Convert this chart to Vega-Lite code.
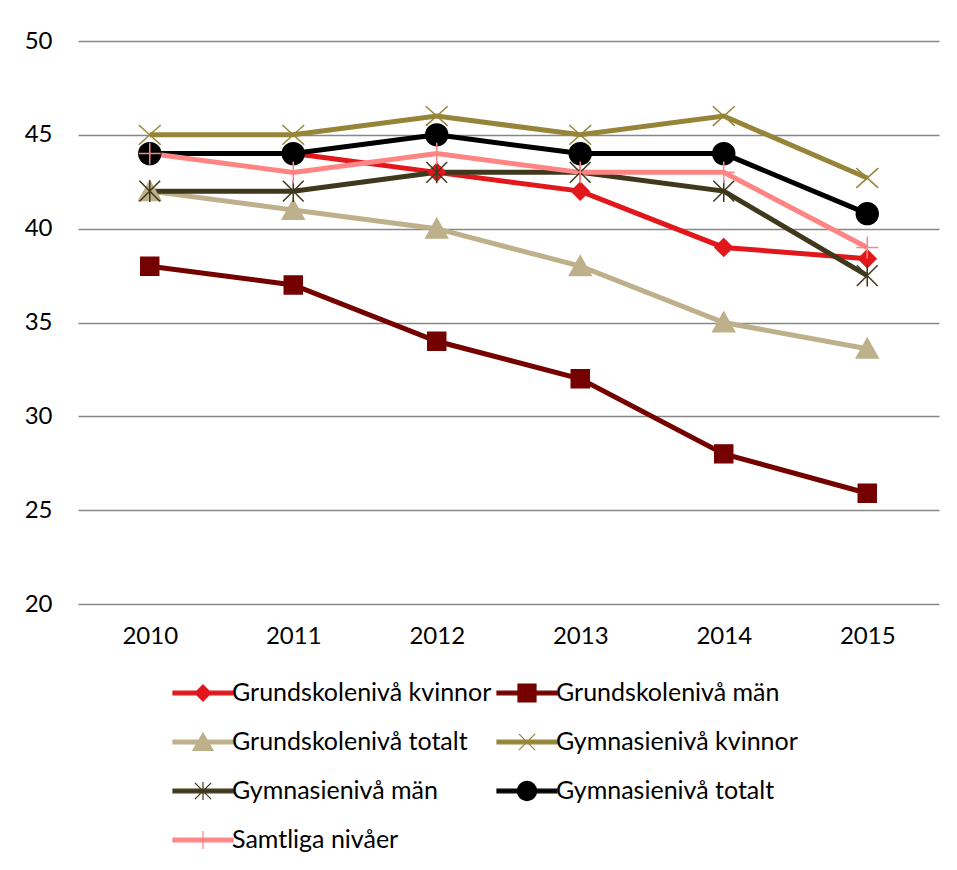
{
  "$schema": "https://vega.github.io/schema/vega-lite/v6.json",
  "autosize": {"type": "none"},
  "padding": {"left": 78, "top": 41, "right": 18, "bottom": 266},
  "width": 861,
  "height": 563,
  "background": "white",
  "config": {
    "view": {"stroke": null},
    "font": "Lato"
  },
  "data": {
    "values": [
      {"series": "Grundskolenivå kvinnor", "year": "2010", "value": 44},
      {"series": "Grundskolenivå kvinnor", "year": "2011", "value": 44},
      {"series": "Grundskolenivå kvinnor", "year": "2012", "value": 43},
      {"series": "Grundskolenivå kvinnor", "year": "2013", "value": 42},
      {"series": "Grundskolenivå kvinnor", "year": "2014", "value": 39},
      {"series": "Grundskolenivå kvinnor", "year": "2015", "value": 38.4},
      {"series": "Grundskolenivå män", "year": "2010", "value": 38},
      {"series": "Grundskolenivå män", "year": "2011", "value": 37},
      {"series": "Grundskolenivå män", "year": "2012", "value": 34},
      {"series": "Grundskolenivå män", "year": "2013", "value": 32},
      {"series": "Grundskolenivå män", "year": "2014", "value": 28},
      {"series": "Grundskolenivå män", "year": "2015", "value": 25.9},
      {"series": "Grundskolenivå totalt", "year": "2010", "value": 42},
      {"series": "Grundskolenivå totalt", "year": "2011", "value": 41},
      {"series": "Grundskolenivå totalt", "year": "2012", "value": 40},
      {"series": "Grundskolenivå totalt", "year": "2013", "value": 38},
      {"series": "Grundskolenivå totalt", "year": "2014", "value": 35},
      {"series": "Grundskolenivå totalt", "year": "2015", "value": 33.6},
      {"series": "Gymnasienivå kvinnor", "year": "2010", "value": 45},
      {"series": "Gymnasienivå kvinnor", "year": "2011", "value": 45},
      {"series": "Gymnasienivå kvinnor", "year": "2012", "value": 46},
      {"series": "Gymnasienivå kvinnor", "year": "2013", "value": 45},
      {"series": "Gymnasienivå kvinnor", "year": "2014", "value": 46},
      {"series": "Gymnasienivå kvinnor", "year": "2015", "value": 42.7},
      {"series": "Gymnasienivå män", "year": "2010", "value": 42},
      {"series": "Gymnasienivå män", "year": "2011", "value": 42},
      {"series": "Gymnasienivå män", "year": "2012", "value": 43},
      {"series": "Gymnasienivå män", "year": "2013", "value": 43},
      {"series": "Gymnasienivå män", "year": "2014", "value": 42},
      {"series": "Gymnasienivå män", "year": "2015", "value": 37.5},
      {"series": "Gymnasienivå totalt", "year": "2010", "value": 44},
      {"series": "Gymnasienivå totalt", "year": "2011", "value": 44},
      {"series": "Gymnasienivå totalt", "year": "2012", "value": 45},
      {"series": "Gymnasienivå totalt", "year": "2013", "value": 44},
      {"series": "Gymnasienivå totalt", "year": "2014", "value": 44},
      {"series": "Gymnasienivå totalt", "year": "2015", "value": 40.8},
      {"series": "Samtliga nivåer", "year": "2010", "value": 44},
      {"series": "Samtliga nivåer", "year": "2011", "value": 43},
      {"series": "Samtliga nivåer", "year": "2012", "value": 44},
      {"series": "Samtliga nivåer", "year": "2013", "value": 43},
      {"series": "Samtliga nivåer", "year": "2014", "value": 43},
      {"series": "Samtliga nivåer", "year": "2015", "value": 39}
    ]
  },
  "encoding": {
    "x": {
      "field": "year", "type": "ordinal",
      "scale": {"type": "point", "padding": 0.5},
      "axis": {"title": null, "labelAngle": 0, "domain": false, "ticks": false, "grid": false, "labelPadding": 20, "labelFont": "Lato", "labelFontSize": 24, "labelColor": "#000000"}
    },
    "y": {
      "field": "value", "type": "quantitative",
      "scale": {"domain": [20, 50], "nice": false, "zero": false},
      "axis": {"title": null, "values": [20, 25, 30, 35, 40, 45, 50], "domain": false, "ticks": false, "labelPadding": 26, "gridColor": "#878787", "gridWidth": 1.5, "gridOpacity": 1, "labelFont": "Lato", "labelFontSize": 24, "labelColor": "#000000"}
    }
  },
  "layer": [
    {
      "mark": {"type": "line", "strokeWidth": 5},
      "encoding": {
        "stroke": {
          "field": "series", "type": "nominal",
          "scale": {
            "domain": ["Grundskolenivå kvinnor", "Grundskolenivå män", "Grundskolenivå totalt", "Gymnasienivå kvinnor", "Gymnasienivå män", "Gymnasienivå totalt", "Samtliga nivåer"],
            "range": ["#E2171B", "#750000", "#BDB08A", "#968539", "#3F381C", "#000000", "#FF8585"]
          }
        },
        "order": {"field": "year"}
      }
    },
    {
      "mark": {"type": "point", "filled": true, "size": 480, "strokeWidth": 1.5, "opacity": 1},
      "encoding": {
        "color": {
          "field": "series", "type": "nominal",
          "scale": {
            "domain": ["Grundskolenivå kvinnor", "Grundskolenivå män", "Grundskolenivå totalt", "Gymnasienivå kvinnor", "Gymnasienivå män", "Gymnasienivå totalt", "Samtliga nivåer"],
            "range": ["#E2171B", "#750000", "#BDB08A", "#968539", "#3F381C", "#000000", "#FF8585"]
          },
          "legend": {
            "title": null, "orient": "none", "legendX": 94, "legendY": 621, "direction": "horizontal", "columns": 2,
            "labelFont": "Lato", "labelFontSize": 25, "labelColor": "#000000", "labelOffset": -2, "labelLimit": 400,
            "symbolSize": 3600, "symbolStrokeWidth": 1, "rowPadding": 5, "columnPadding": 2, "symbolOpacity": 1,
            "encode": {
              "symbols": {
                "update": {
                  "shape": {"signal": "datum.value === 'Grundskolenivå kvinnor' ? 'M-1,-0.06H1V0.06H-1Z M0,-0.27L0.27,0L0,0.27L-0.27,0Z' : datum.value === 'Grundskolenivå män' ? 'M-1,-0.06H1V0.06H-1Z M-0.3,-0.3H0.3V0.3H-0.3Z' : datum.value === 'Grundskolenivå totalt' ? 'M-1,-0.06H1V0.06H-1Z M0,-0.3L0.34,0.28H-0.34Z' : datum.value === 'Gymnasienivå kvinnor' ? 'M-1,-0.06H1V0.06H-1Z M-0.27,-0.27L0.27,0.27M-0.27,0.27L0.27,-0.27' : datum.value === 'Gymnasienivå män' ? 'M-1,-0.06H1V0.06H-1Z M-0.27,-0.27L0.27,0.27M-0.27,0.27L0.27,-0.27M0,-0.3V0.3' : datum.value === 'Gymnasienivå totalt' ? 'M-1,-0.06H1V0.06H-1Z M-0.32,0A0.32,0.32 0 1,1 0.32,0A0.32,0.32 0 1,1 -0.32,0Z' : 'M-1,-0.06H1V0.06H-1Z M0,-0.3V0.3'"},
                  "fill": {"signal": "scale('color', datum.value)"},
                  "stroke": {"signal": "scale('color', datum.value)"},
                  "strokeWidth": {"value": 1.2},
                  "opacity": {"value": 1}
                }
              }
            }
          }
        },
        "stroke": {
          "field": "series", "type": "nominal"
        },
        "shape": {
          "field": "series", "type": "nominal", "legend": null,
          "scale": {
            "domain": ["Grundskolenivå kvinnor", "Grundskolenivå män", "Grundskolenivå totalt", "Gymnasienivå kvinnor", "Gymnasienivå män", "Gymnasienivå totalt", "Samtliga nivåer", "_"],
            "range": ["M0,-0.8L0.8,0L0,0.8L-0.8,0Z", "M-0.82,-0.82H0.82V0.82H-0.82Z", "M0,-0.95L1,0.85H-1Z", "M-1,-0.9L1,0.9M-1,0.9L1,-0.9", "M-0.95,-0.95L0.95,0.95M-0.95,0.95L0.95,-0.95M0,-1V1", "circle", "M-1,0H1M0,-1V1", "circle"]
          }
        }
      }
    }
  ]
}
